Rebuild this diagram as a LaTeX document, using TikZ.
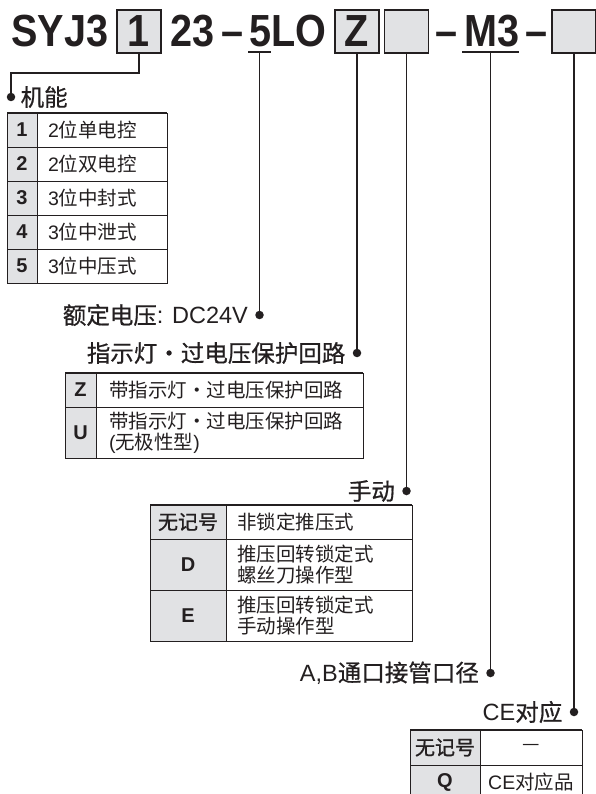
\documentclass[tikz,border=0pt]{standalone}
\usepackage{fontspec}
\setmainfont{Liberation Sans}
\newfontfamily\zhfont{Noto Sans CJK SC}
\newfontfamily\zhheadfont{Noto Sans CJK SC}[FakeBold=0.7]
\newfontfamily\zhkeyfont{Noto Sans CJK SC}[FakeBold=1.2]
\newfontfamily\codefont{Liberation Sans}[FakeStretch=0.88]
\newcommand{\zh}[1]{{\zhfont #1}}
\newcommand{\zhhead}[1]{{\zhheadfont #1}}
\newcommand{\zhkey}[1]{{\mdseries\zhkeyfont #1}}
\usetikzlibrary{positioning}
\definecolor{cellgray}{RGB}{225,226,228}
\definecolor{ink}{RGB}{35,31,32}

\begin{document}
\begin{tikzpicture}[
    x=1pt, y=-1pt,
    code/.style={font=\codefont\bfseries\fontsize{45}{50}\selectfont, inner sep=0, anchor=base west, text=ink},
    codebox/.style={draw=ink, fill=cellgray, line width=1.6pt, minimum width=44pt, minimum height=43pt, inner sep=0, text=ink, font=\codefont\bfseries\fontsize{45}{50}\selectfont},
    lead/.style={line width=1.5pt, draw=ink},
    pin/.style={circle, fill=ink, inner sep=0, minimum size=8.5pt},
    heading/.style={font=\fontsize{23.5}{28}\selectfont, inner sep=0, text=ink},
    keycell/.style 2 args={draw=ink, fill=cellgray, line width=0.9pt, outer sep=0, inner sep=0, minimum width=#1, minimum height=#2, text=ink, font=\bfseries\fontsize{20}{24}\selectfont},
    desccell/.style 2 args={draw=ink, line width=0.9pt, outer sep=0, inner ysep=0, inner xsep=11pt, text width=#1, minimum height=#2, align=left, text=ink, font=\fontsize{19.5}{21}\selectfont},
    topline/.style={line width=1.8pt, draw=ink}
]
\useasboundingbox (0,0) rectangle (595,794);

% model code
\node[code] (syj) at (11,47) {SYJ3};
\node[codebox] (boxfn) at (139,31.5) {1};
\node[code] (n23) at (170,47) {23};
\node[code] (dash1) at (221,47) {–};
\node[code] (n5lo) at (249,47) {5LO};
\node[codebox] (boxled) at (357,31.5) {Z};
\node[codebox] (boxman) at (406.5,31.5) {};
\node[code] (dash2) at (435,47) {–};
\node[code] (nm3) at (464,47) {M3};
\node[code] (dash3) at (525,47) {–};
\node[codebox] (boxce) at (574,31.5) {};
\draw[lead] (248,52) -- (271,52) coordinate[midway] (u5);
\draw[lead] (462,52) -- (519,52) coordinate[midway] (um3);

% pins
\node[pin] (pinfn) at (11,97) {};
\node[pin] (pinvolt) at (u5 |- 0,315) {};
\node[pin] (pinled) at (boxled.south |- 0,353) {};
\node[pin] (pinman) at (boxman.south |- 0,491) {};
\node[pin] (pinport) at (um3 |- 0,673) {};
\node[pin] (pince) at (boxce.south |- 0,712) {};

\draw[lead] (boxfn.south) -- ++(0,19) -| (pinfn);
\draw[lead] (u5) -- (pinvolt);
\draw[lead] (boxled.south) -- (pinled);
\draw[lead] (boxman.south) -- (pinman);
\draw[lead] (um3) -- (pinport);
\draw[lead] (boxce.south) -- (pince);

% headings
\node[heading, right=5pt of pinfn] (hfn) {\zhhead{机能}};
\node[heading, left=7pt of pinvolt] (hvolt) {\zhhead{额定电压}: DC24V};
\node[heading, left=7pt of pinled] (hled) {\zhhead{指示灯・过电压保护回路}};
\node[heading, left=7pt of pinman] (hman) {\zhhead{手动}};
\node[heading, left=7pt of pinport] (hport) {A,B\zhhead{通口接管口径}};
\node[heading, left=7pt of pince] (hce) {CE\zhhead{对应}};

% function table
\node[keycell={30pt}{34pt}, anchor=north west] (fk1) at (7,113) {1};
\node[desccell={108pt}{34pt}, right=0pt of fk1] (fd1) {2\zh{位单电控}};
\node[keycell={30pt}{34pt}, below=0pt of fk1] (fk2) {2};
\node[desccell={108pt}{34pt}, right=0pt of fk2] (fd2) {2\zh{位双电控}};
\node[keycell={30pt}{34pt}, below=0pt of fk2] (fk3) {3};
\node[desccell={108pt}{34pt}, right=0pt of fk3] (fd3) {3\zh{位中封式}};
\node[keycell={30pt}{34pt}, below=0pt of fk3] (fk4) {4};
\node[desccell={108pt}{34pt}, right=0pt of fk4] (fd4) {3\zh{位中泄式}};
\node[keycell={30pt}{34pt}, below=0pt of fk4] (fk5) {5};
\node[desccell={108pt}{34pt}, right=0pt of fk5] (fd5) {3\zh{位中压式}};
\draw[topline] (fk1.north west) -- (fd1.north east);

% light / surge table
\node[keycell={31pt}{34pt}, anchor=north west] (lk1) at (65,373) {Z};
\node[desccell={241pt}{34pt}, inner xsep=13pt, right=0pt of lk1] (ld1) {\zh{带指示灯・过电压保护回路}};
\node[keycell={31pt}{51pt}, below=0pt of lk1] (lk2) {U};
\node[desccell={241pt}{51pt}, inner xsep=13pt, right=0pt of lk2] (ld2) {\zh{带指示灯・过电压保护回路}\\(\zh{无极性型})};
\draw[topline] (lk1.north west) -- (ld1.north east);

% manual override table
\node[keycell={76pt}{34pt}, anchor=north west] (mk1) at (150,505) {\zhkey{无记号}};
\node[desccell={164pt}{34pt}, right=0pt of mk1] (md1) {\zh{非锁定推压式}};
\node[keycell={76pt}{51pt}, below=0pt of mk1] (mk2) {D};
\node[desccell={164pt}{51pt}, right=0pt of mk2] (md2) {\zh{推压回转锁定式}\\\zh{螺丝刀操作型}};
\node[keycell={76pt}{51pt}, below=0pt of mk2] (mk3) {E};
\node[desccell={164pt}{51pt}, right=0pt of mk3] (md3) {\zh{推压回转锁定式}\\\zh{手动操作型}};
\draw[topline] (mk1.north west) -- (md1.north east);

% CE table
\node[keycell={70pt}{35pt}, anchor=north west] (ck1) at (410,730) {\zhkey{无记号}};
\node[desccell={86pt}{35pt}, inner xsep=8pt, align=center, right=0pt of ck1] (cd1) {\zh{—}};
\node[keycell={70pt}{35pt}, below=0pt of ck1] (ck2) {Q};
\node[desccell={86pt}{35pt}, inner xsep=8pt, align=center, right=0pt of ck2] (cd2) {CE\zh{对应品}};
\draw[topline] (ck1.north west) -- (cd1.north east);

\end{tikzpicture}
\end{document}
